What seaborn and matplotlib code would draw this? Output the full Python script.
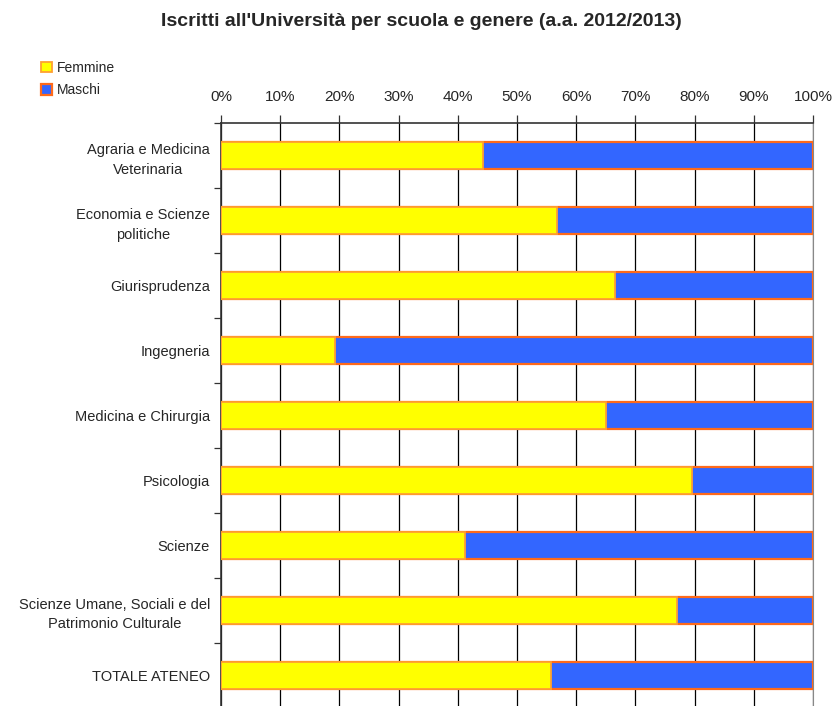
import numpy as np
import pandas as pd
import matplotlib.pyplot as plt
import seaborn as sns
from matplotlib.patches import Patch
from matplotlib.ticker import FixedLocator, PercentFormatter

# Data (percent of enrolled students)
scuole = ["Agraria e Medicina\nVeterinaria", "Economia e Scienze\npolitiche", "Giurisprudenza",
          "Ingegneria", "Medicina e Chirurgia", "Psicologia", "Scienze",
          "Scienze Umane, Sociali e del\nPatrimonio Culturale", "TOTALE ATENEO"]
femmine = [44.3, 56.8, 66.6, 19.3, 65.0, 79.6, 41.2, 77.0, 55.7]
maschi = [55.7, 43.2, 33.4, 80.7, 35.0, 20.4, 58.8, 23.0, 44.3]

df = pd.DataFrame({"scuola": scuole, "Femmine": femmine, "Maschi": maschi})
df["totale"] = df["Femmine"] + df["Maschi"]

sns.set_style("white")
plt.rcParams["font.family"] = ["Liberation Sans", "DejaVu Sans"]

fig = plt.figure(figsize=(8.37, 7.06), dpi=100)
ax = fig.add_axes([221 / 837, -2 / 706, 592 / 837, 585 / 706])

# stacked bars: full bar (maschi on the right), femmine drawn over it
sns.barplot(data=df, x="totale", y="scuola", orient="h", color="#3366FF",
            edgecolor="#FF6A1A", linewidth=1.6, width=0.43, saturation=1, ax=ax, zorder=3)
sns.barplot(data=df, x="Femmine", y="scuola", orient="h", color="#FFFF00",
            edgecolor="#FFA030", linewidth=1.3, width=0.43, saturation=1, ax=ax, zorder=4)

ax.set_xlim(0, 100)
ax.set_ylim(len(scuole) - 0.5, -0.5)
ax.set_xlabel("")
ax.set_ylabel("")

ax.xaxis.tick_top()
ax.set_xticks(np.arange(0, 101, 10))
ax.xaxis.set_major_formatter(PercentFormatter(decimals=0))
ax.tick_params(axis="x", length=6, width=0.9, pad=8, labelsize=11, color="#333333")
ax.grid(axis="x", color="black", linewidth=0.9, zorder=0)
ax.set_axisbelow(True)

ax.tick_params(axis="y", which="major", length=0, pad=8, labelsize=10.5)
ax.yaxis.set_minor_locator(FixedLocator(np.arange(-0.5, len(scuole), 1)))
ax.tick_params(axis="y", which="minor", length=5, width=0.9, color="#333333", left=True)
for lab in ax.get_yticklabels():
    lab.set_multialignment("center")
    lab.set_linespacing(1.5)

for s in ["top", "left"]:
    ax.spines[s].set_color("#333333")
    ax.spines[s].set_linewidth(1.2)
ax.spines["right"].set_color("#888888")
ax.spines["bottom"].set_visible(False)

handles = [Patch(facecolor="#FFFF00", edgecolor="#FFA030", linewidth=1.3, label="Femmine"),
           Patch(facecolor="#3366FF", edgecolor="#FF6A1A", linewidth=1.6, label="Maschi")]
fig.legend(handles=handles, loc="upper left", bbox_to_anchor=(41 / 837, 1 - 61 / 706),
           frameon=False, fontsize=10, handlelength=0.8, handleheight=0.8,
           handletextpad=0.35, labelspacing=0.6, borderaxespad=0, borderpad=0)

fig.suptitle("Iscritti all'Università per scuola e genere (a.a. 2012/2013)",
             x=0.503, y=1 - 21 / 706, va="center", fontsize=14, fontweight="bold")

fig.savefig("out.png", dpi=100)
